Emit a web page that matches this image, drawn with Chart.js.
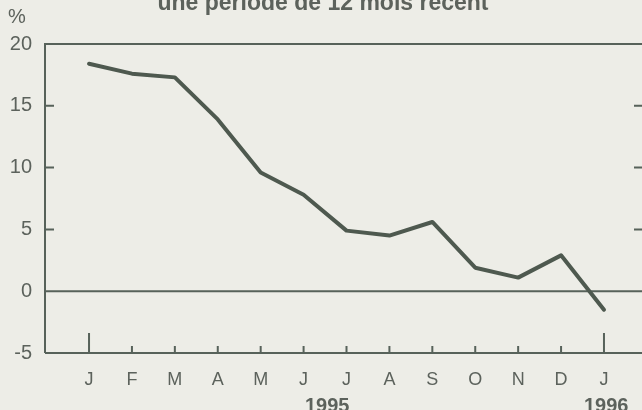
<!DOCTYPE html>
<html>
<head>
<meta charset="utf-8">
<script src="https://cdn.jsdelivr.net/npm/chart.js@4"></script>
<style>
  html, body { margin: 0; padding: 0; background: #ededE7; }
  canvas { display: block; }
</style>
</head>
<body>
<canvas id="inflation_chart" width="642" height="410"></canvas>
<script>
// mois de janvier 1995 à janvier 1996
const months = ['J', 'F', 'M', 'A', 'M', 'J', 'J', 'A', 'S', 'O', 'N', 'D', 'J'];
const rates = [18.4, 17.6, 17.3, 13.9, 9.6, 7.8, 4.9, 4.5, 5.6, 1.9, 1.1, 2.9, -1.5];
const yTicks = [-5, 0, 5, 10, 15, 20];
const years = [{ at: 5.55, text: '1995' }, { at: 12.05, text: '1996' }];
const title = 'une période de 12 mois récent';

const ink = '#57625a';
const textInk = '#5c625c';
const fontFam = '"Liberation Sans", Arial, sans-serif';

const decor = {
  id: 'decor',
  beforeDraw(chart) {
    const c = chart.ctx;
    c.save();
    c.fillStyle = '#ededE7';
    c.fillRect(0, 0, chart.width, chart.height);
    c.restore();
  },
  beforeDatasetsDraw(chart) {
    const c = chart.ctx;
    const a = chart.chartArea;
    const x = chart.scales.x, y = chart.scales.y;
    c.save();
    c.strokeStyle = ink;
    c.lineWidth = 2;
    // cadre
    c.beginPath();
    c.moveTo(a.left, a.bottom);
    c.lineTo(a.left, a.top);
    c.lineTo(a.right, a.top);
    c.moveTo(a.left, a.bottom);
    c.lineTo(a.right, a.bottom);
    // ligne zéro
    const y0 = y.getPixelForValue(0);
    c.moveTo(a.left, y0);
    c.lineTo(a.right, y0);
    // graduations gauche / droite
    [5, 10, 15].forEach(v => {
      const py = y.getPixelForValue(v);
      c.moveTo(a.left, py);
      c.lineTo(a.left + 9, py);
      c.moveTo(a.right, py);
      c.lineTo(a.right - 8, py);
    });
    // graduations mois
    months.forEach((m, i) => {
      const px = x.getPixelForValue(i);
      const len = (i === 0 || i === 12) ? 20 : 7;
      c.moveTo(px, a.bottom);
      c.lineTo(px, a.bottom - len);
    });
    c.stroke();

    // années
    c.fillStyle = textInk;
    c.textAlign = 'center';
    c.textBaseline = 'alphabetic';
    c.font = 'bold 20px ' + fontFam;
    years.forEach(yr => {
      c.fillText(yr.text, x.getPixelForValue(yr.at), 412);
    });
    // titre coupé en haut
    c.font = 'bold 23px ' + fontFam;
    c.fillText(title, 323, 10);
    c.font = '20px ' + fontFam;
    c.fillText('%', 17, 23);
    c.restore();
  }
};

const ctx = document.getElementById('inflation_chart');

new Chart(ctx, {
  type: 'line',
  data: {
    datasets: [{
      data: rates.map((v, i) => ({ x: i, y: v })),
      borderColor: '#4e594f',
      borderWidth: 4,
      pointRadius: 0,
      tension: 0,
      borderCapStyle: 'round',
      borderJoinStyle: 'round'
    }]
  },
  options: {
    responsive: false,
    animation: false,
    layout: { padding: { top: 44, right: 0, bottom: 0, left: 0 } },
    plugins: {
      legend: { display: false },
      tooltip: { enabled: false }
    },
    scales: {
      x: {
        type: 'linear',
        min: -1.026,
        max: 12.886,
        afterFit: (s) => { s.height = 57; },
        afterBuildTicks: (s) => { s.ticks = months.map((m, i) => ({ value: i })); },
        grid: { display: false, drawTicks: false },
        border: { display: false },
        ticks: {
          autoSkip: false,
          maxRotation: 0,
          padding: 16,
          color: textInk,
          font: { family: fontFam, size: 18 },
          callback: (v) => months[v]
        }
      },
      y: {
        min: -5,
        max: 20,
        afterFit: (s) => { s.width = 45; },
        afterBuildTicks: (s) => { s.ticks = yTicks.map(v => ({ value: v })); },
        grid: { display: false, drawTicks: false },
        border: { display: false },
        ticks: {
          padding: 13,
          color: textInk,
          font: { family: fontFam, size: 20 }
        }
      }
    }
  },
  plugins: [decor]
});
</script>
</body>
</html>
